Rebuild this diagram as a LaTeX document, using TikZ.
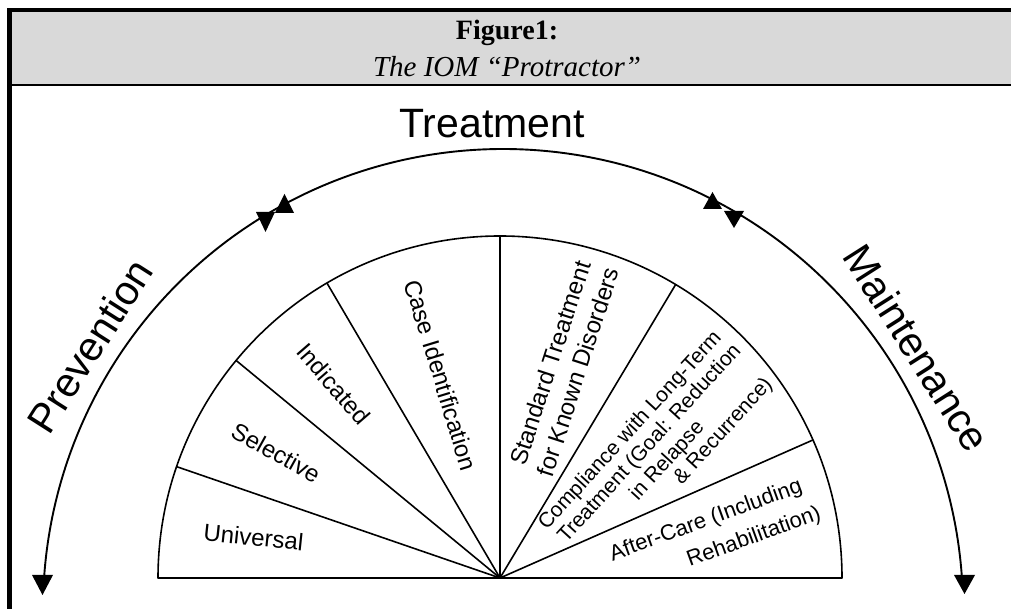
\documentclass[tikz,border=0pt]{standalone}
\usepackage{fontspec}
\setmainfont{Liberation Serif}
\newfontfamily\arialf{Liberation Sans}
\definecolor{hdrgray}{RGB}{217,217,217}
\begin{document}
\begin{tikzpicture}[x=1pt,y=1pt,
  sec/.style={line width=1.6pt, line join=round},
  arcl/.style={line width=1.9pt},
  tip/.style={fill=black},
  lab/.style={font=\arialf\fontsize{24}{29}\selectfont, inner sep=0pt, align=center},
  labs/.style={font=\arialf\fontsize{21}{24}\selectfont, inner sep=0pt},
  labm/.style={font=\arialf\fontsize{22}{25}\selectfont, inner sep=0pt},
  big/.style={font=\arialf\fontsize{41}{44}\selectfont, inner sep=0pt}]
\useasboundingbox (0,0) rectangle (1011,609);
\fill[white] (0,0) rectangle (1011,609);
% header
\fill[hdrgray] (11,524) rectangle (1011,597);
\draw[line width=1.3pt] (11,524) -- (1011,524);
\draw[line width=3.5pt] (7,599) -- (1011,599);
\draw[line width=5pt] (9.2,0) -- (9.2,601);
\node[anchor=base, font=\bfseries\fontsize{28}{30}\selectfont] (fig) at (507,569) {Figure1:};
\node[anchor=base, font=\itshape\fontsize{29}{31}\selectfont] (cap) at (507,532) {The IOM “Protractor”};
% inner protractor
\coordinate (O) at (500,31);
\draw[sec] (158,31) -- (842,31) arc[start angle=0, end angle=180, radius=342] -- cycle;
\foreach \a in {23.8,59.1,90,120.4,140.5,161}
  \draw[sec] (O) -- ++(\a:342);
% outer arcs
\coordinate (C) at (503,0);
\draw[arcl] (C) ++(175.8:460) arc[start angle=175.8, end angle=120, radius=460];
\draw[arcl] (C) ++(120:460) arc[start angle=120, end angle=61, radius=460];
\draw[arcl] (C) ++(61:460) arc[start angle=61, end angle=4.2, radius=460];
% arrowheads
\fill[tip] (256,397) -- (275,397) -- (265.5,377) -- cycle;
\fill[tip] (275,396) -- (294,396) -- (284.5,415) -- cycle;
\fill[tip] (703,400) -- (722,400) -- (712.5,417) -- cycle;
\fill[tip] (724,398) -- (744,398) -- (734,381) -- cycle;
\fill[tip] (32,34) -- (53,34) -- (42.5,14) -- cycle;
\fill[tip] (954,34) -- (975,34) -- (964.5,15) -- cycle;
% big labels
\node[big, anchor=base] (treat) at (492,471) {Treatment};
\node[big, rotate=57.5] (prev) at (90,263) {Prevention};
\node[big, rotate=-57.5] (maint) at (917,261) {Maintenance};
% sector labels
\node[lab, rotate=-6] (uni) at (253.5,72) {Universal};
\node[lab, rotate=-29] (sel) at (276,156.5) {Selective};
\node[lab, rotate=-49] (ind) at (333.5,225) {Indicated};
\node[lab, rotate=-73] (cid) at (441,234) {Case Identification};
\node[lab, rotate=72] (std) at (564,241.5) {Standard Treatment\\for Known Disorders};
\node[labs, rotate=47.6] (c1) at (630.5,178) {Compliance with Long-Term};
\node[labs, rotate=47.6] (c2) at (650,165) {Treatment (Goal: Reduction};
\node[labs, rotate=47.6] (c3) at (667.5,148) {in Relapse};
\node[labs, rotate=47.6] (c4) at (723.5,177.5) {\& Recurrence)};
\node[labm, rotate=20] (a1) at (706,88) {After-Care (Including};
\node[labm, rotate=20] (a2) at (754,71.5) {Rehabilitation)};
\end{tikzpicture}
\end{document}
